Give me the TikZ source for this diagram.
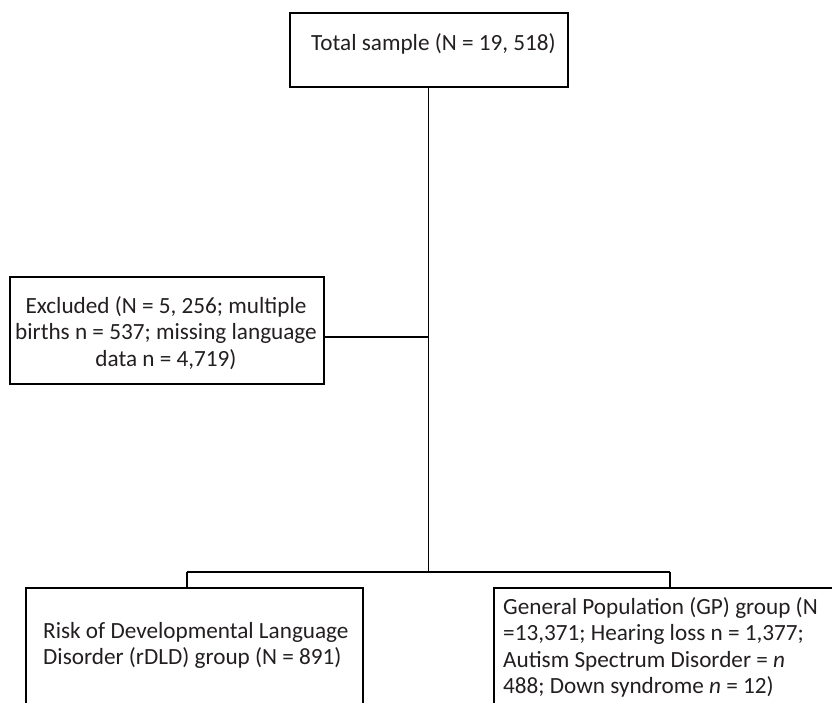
\documentclass[tikz,border=0pt]{standalone}
\usepackage{fontspec}
\setmainfont{Carlito}
\definecolor{txtc}{HTML}{231F20}
\begin{document}
\begin{tikzpicture}[x=1pt,y=-1pt,
  boxst/.style={draw=black, line width=1.7pt, inner sep=0pt, anchor=north west},
  conn/.style={draw=black, line width=1.2pt},
  txt/.style={inner sep=0pt, text=txtc, font=\fontsize{23.2}{26.5}\selectfont}]
\useasboundingbox (0,0) rectangle (832,702);
\clip (0,0) rectangle (832,702);
% boxes
\node[boxst, minimum width=278pt, minimum height=74pt] (top) at (289,12) {};
\node[boxst, minimum width=314pt, minimum height=107pt] (excl) at (9,276) {};
\node[boxst, minimum width=337pt, minimum height=160pt] (rdld) at (25,587) {};
\node[boxst, minimum width=400pt, minimum height=160pt] (gp) at (493,587) {};
% texts
\node[txt, anchor=base west] (ttop) at (311,50.7) {Total sample (N = 19, 518)};
\node[txt, anchor=base] (texcl) at (166,313.3) {\begin{tabular}[t]{@{}c@{}}Excluded (N = 5, 256; multiple\\births n = 537; missing language\\data n = 4,719)\end{tabular}};
\node[txt, anchor=base west] (trdld) at (43,638.3) {\begin{tabular}[t]{@{}l@{}}Risk of Developmental Language\\Disorder (rDLD) group (N = 891)\end{tabular}};
\node[txt, anchor=base west] (tgp) at (503,614) {\begin{tabular}[t]{@{}l@{}}General Population (GP) group (N\\=13,371; Hearing loss n = 1,377;\\Autism Spectrum Disorder = \textit{n}\\488; Down syndrome \textit{n} = 12)\end{tabular}};
% connectors
\coordinate (ej) at (top.south |- 0,337);
\coordinate (br) at (top.south |- 0,572);
\coordinate (bl) at (187,572);
\coordinate (bg) at (670,572);
\draw[conn] (top.south) -- (br);
\draw[conn] (excl.east |- ej) -- (ej);
\draw[conn] (bl) -- (bg);
\draw[conn] (bl) -- (bl |- rdld.north);
\draw[conn] (bg) -- (bg |- gp.north);
\end{tikzpicture}
\end{document}
